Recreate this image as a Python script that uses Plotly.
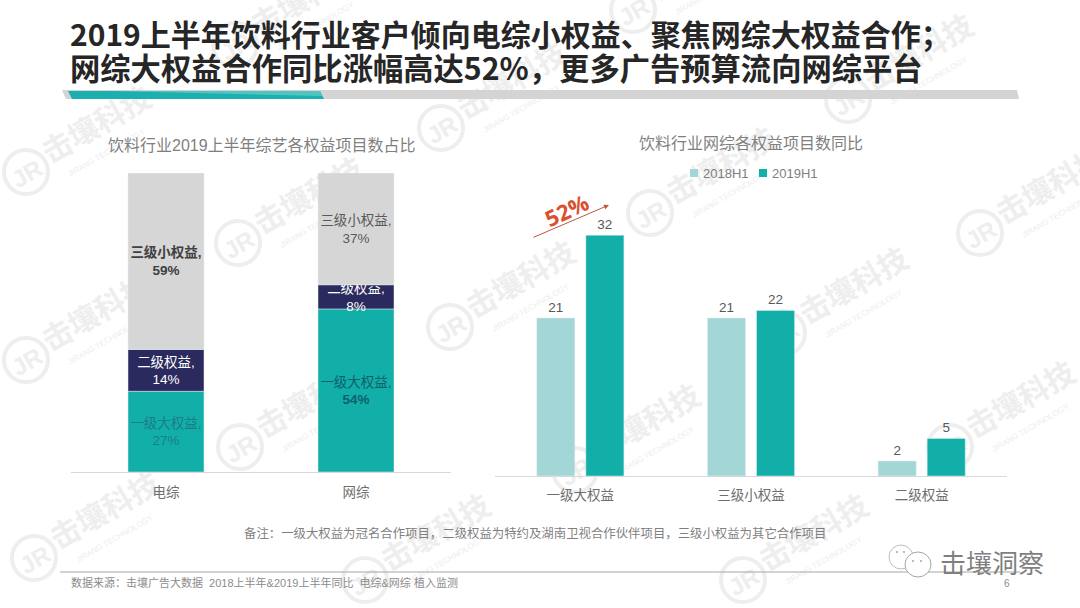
import plotly.graph_objects as go

CJK = "Noto Sans CJK SC"
LABEL = "Liberation Sans, Noto Sans CJK SC"

# left chart: share of projects per tier
media = ["电综", "网综"]
tier1_share = [27, 54]
tier2_share = [14, 8]
tier3_share = [59, 37]
tier1_text = ["一级大权益,<br>27%", "一级大权益,<br><b>54%</b>"]
tier2_text = ["二级权益,<br>14%", "二级权益,<br>8%"]
tier3_text = ["<b>三级小权益,<br>59%</b>", "三级小权益,<br>37%"]

# right chart: project count per tier
tiers = ["一级大权益", "三级小权益", "二级权益"]
h1_2018 = [21, 21, 2]
h1_2019 = [32, 22, 5]

title_lines = [
    "2019上半年饮料行业客户倾向电综小权益、聚焦网综大权益合作；",
    "网综大权益合作同比涨幅高达52%，更多广告预算流向网综平台",
]
left_title = "饮料行业2019上半年综艺各权益项目数占比"
right_title = "饮料行业网综各权益项目数同比"
note = "备注：一级大权益为冠名合作项目，二级权益为特约及湖南卫视合作伙伴项目，三级小权益为其它合作项目"
source = "数据来源：击壤广告大数据  2018上半年&2019上半年同比  电综&网综 植入监测"

# where the watermark logos sit in the page, in pixels
watermarks = [(26, 172), (26, 360), (34, 558), (238, 243), (240, 447), (235, 45),
              (441, 128), (450, 327), (365, 580), (633, 10), (650, 213), (575, 470),
              (783, 333), (743, 580), (848, 100), (980, 233), (950, 447)]

TEAL = "#12AFA8"
NAVY = "#2B2A5E"
GREY = "#D6D6D6"
PALE = "#A3D6D6"
WM = "#EEEEEE"


def px(x):
    return x / 1080


def py(y):
    return 1 - y / 608


def path(points):
    return "M " + " L ".join(f"{px(x):.5f} {py(y):.5f}" for x, y in points) + " Z"


def text(x, y, s, size, color, anchor="center", font=LABEL, angle=0):
    return dict(x=px(x), y=py(y), xref="paper", yref="paper", text=s, showarrow=False,
                xanchor=anchor, yanchor="middle", textangle=angle,
                font=dict(family=font, size=size, color=color))


# the source percentages are rounded (网综 adds to 99), the bars still fill the full height
totals = [a + b + c for a, b, c in zip(tier1_share, tier2_share, tier3_share)]
tier1_h = [v / t * 100 for v, t in zip(tier1_share, totals)]
tier2_h = [v / t * 100 for v, t in zip(tier2_share, totals)]
tier3_h = [v / t * 100 for v, t in zip(tier3_share, totals)]
tier2_base = tier1_h
tier3_base = [a + b for a, b in zip(tier1_h, tier2_h)]

fig = go.Figure()

fig.add_trace(go.Bar(x=media, y=tier1_h, name="一级大权益", marker_color=TEAL, width=0.4,
                     text=tier1_text, textfont=dict(color=["#1A7E86", "#0E5F68"]),
                     offsetgroup="stack", xaxis="x", yaxis="y"))
fig.add_trace(go.Bar(x=media, y=tier2_h, base=tier2_base, name="二级权益", marker_color=NAVY, width=0.4,
                     text=tier2_text, textfont=dict(color="#FFFFFF"),
                     offsetgroup="stack", xaxis="x", yaxis="y"))
fig.add_trace(go.Bar(x=media, y=tier3_h, base=tier3_base, name="三级小权益", marker_color=GREY, width=0.4,
                     text=tier3_text, textfont=dict(color=["#404040", "#595959"]),
                     offsetgroup="stack", xaxis="x", yaxis="y"))
fig.update_traces(textposition="inside", insidetextanchor="middle", textangle=0,
                  constraintext="none", insidetextfont_family=LABEL, insidetextfont_size=13.5)

fig.add_trace(go.Bar(x=tiers, y=h1_2018, name="2018H1", marker_color=PALE, text=h1_2018,
                     textposition="outside", cliponaxis=False,
                     textfont=dict(family=LABEL, size=13.5, color="#595959"),
                     xaxis="x2", yaxis="y2"))
fig.add_trace(go.Bar(x=tiers, y=h1_2019, name="2019H1", marker_color=TEAL, text=h1_2019,
                     textposition="outside", cliponaxis=False,
                     textfont=dict(family=LABEL, size=13.5, color="#595959"),
                     xaxis="x2", yaxis="y2"))

shapes = []
annotations = []

# watermark goes in shapes so the bars cover it, like in the picture
for x, y in watermarks:
    shapes.append(dict(type="circle", xref="paper", yref="paper", layer="below",
                       x0=px(x - 22), x1=px(x + 22), y0=py(y + 22), y1=py(y - 22),
                       line=dict(color=WM, width=4),
                       label=dict(text="<b>JR</b>", textangle=-30, textposition="middle center",
                                  font=dict(family="Liberation Sans", size=24, color=WM))))
    shapes.append(dict(type="rect", xref="paper", yref="paper", layer="below",
                       x0=px(x + 7), x1=px(x + 137), y0=py(y - 25), y1=py(y - 65),
                       line=dict(width=0), fillcolor="rgba(0,0,0,0)",
                       label=dict(text="<b>击壤科技</b>", textangle=-30, textposition="middle center",
                                  font=dict(family=CJK, size=30, color=WM))))
    shapes.append(dict(type="rect", xref="paper", yref="paper", layer="below",
                       x0=px(x + 20), x1=px(x + 140), y0=py(y), y1=py(y - 40),
                       line=dict(width=0), fillcolor="rgba(0,0,0,0)",
                       label=dict(text="JIRANG TECHNOLOGY", textangle=-30, textposition="middle center",
                                  font=dict(family="Liberation Sans", size=8, color=WM))))

# header rule
shapes.append(dict(type="path", xref="paper", yref="paper", layer="below", line_width=0,
                   fillcolor="#D4D4D4",
                   path=path([(62, 90), (1017, 90), (1019, 99), (66, 99)])))
shapes.append(dict(type="path", xref="paper", yref="paper", layer="below", line_width=0,
                   fillcolor="#1BAFAE",
                   path=path([(68, 91), (320, 91), (324, 99), (72, 99)])))
shapes.append(dict(type="path", xref="paper", yref="paper", layer="below", line_width=0,
                   fillcolor="#52C5C3",
                   path=path([(110, 91), (320, 91), (322, 96)])))

# footer rule and the account mark
shapes.append(dict(type="line", xref="paper", yref="paper", layer="below",
                   x0=px(60), x1=px(1020), y0=py(572), y1=py(572),
                   line=dict(color="#A6A6A6", width=1)))
shapes.append(dict(type="circle", xref="paper", yref="paper", x0=px(889), x1=px(913),
                   y0=py(569), y1=py(545), line=dict(color="#BFBFBF", width=1), fillcolor="#FFFFFF"))
shapes.append(dict(type="circle", xref="paper", yref="paper", x0=px(905), x1=px(931),
                   y0=py(577), y1=py(552), line=dict(color="#A6A6A6", width=1), fillcolor="#FFFFFF"))
for ex, ey in [(897, 552), (904, 552), (913, 561), (921, 561)]:
    shapes.append(dict(type="circle", xref="paper", yref="paper", x0=px(ex - 1), x1=px(ex + 1),
                       y0=py(ey + 1), y1=py(ey - 1), line_width=0, fillcolor="#A6A6A6"))

# plotly's own legend can't get the swatches this small and this close to the text
for sx, tr in [(690, fig.data[3]), (759, fig.data[4])]:
    shapes.append(dict(type="rect", xref="paper", yref="paper", x0=px(sx), x1=px(sx + 8),
                       y0=py(177), y1=py(169), line_width=0, fillcolor=tr.marker.color))
    annotations.append(text(sx + 11, 173, tr.name, 13, "#7F7F7F", "left"))

annotations.append(text(68, 33, f"<b>{title_lines[0]}</b>", 30, "#262626", "left", CJK))
annotations.append(text(68, 67, f"<b>{title_lines[1]}</b>", 30.3, "#262626", "left", CJK))
annotations.append(text(262, 145, left_title, 16, "#7F7F7F"))
annotations.append(text(751, 142, right_title, 16, "#7F7F7F", font=CJK))
annotations.append(text(535, 533, note, 12.4, "#7F7F7F", font=CJK))
annotations.append(text(69, 582, source, 11, "#8C8C8C", "left"))
annotations.append(text(1007, 583, "6", 10, "#8C8C8C"))
annotations.append(text(992, 561, "击壤洞察", 26, "#7F7F7F", font=CJK))
annotations.append(text(566, 210, "<b>52%</b>", 22, "#D9502E", angle=-25, font="Open Sans"))
annotations.append(dict(x=px(609), y=py(205), ax=-77, ay=33, xref="paper", yref="paper",
                        text="", showarrow=True, arrowhead=2,
                        arrowsize=1, arrowwidth=1, arrowcolor="#C0573E"))

axis_font = dict(family=CJK, size=13.5, color="#6E6E6E")
fig.update_layout(
    width=1080,
    height=608,
    margin=dict(l=0, r=0, t=0, b=0),
    paper_bgcolor="#FFFFFF",
    plot_bgcolor="rgba(0,0,0,0)",
    barmode="group",
    bargap=0.425,
    bargroupgap=0.224,
    showlegend=False,
    shapes=shapes,
    annotations=annotations,
    xaxis=dict(domain=[px(71), px(451)], anchor="y", showline=True, linecolor="#D9D9D9",
               linewidth=1, ticks="", tickfont=axis_font, ticklabelstandoff=8),
    yaxis=dict(domain=[py(472), py(173)], anchor="x", range=[0, 100], visible=False),
    xaxis2=dict(domain=[px(495), px(1007)], anchor="y2", showline=True, linecolor="#D9D9D9",
                linewidth=1, ticks="", tickfont=axis_font, ticklabelstandoff=7),
    yaxis2=dict(domain=[py(476), py(175)], anchor="x2", range=[0, 40], visible=False),
)

# the browser's default body margin would push the whole figure off by 8px
fig.write_html("out.html", post_script="document.body.style.margin='0';",
               config={"displayModeBar": False})
